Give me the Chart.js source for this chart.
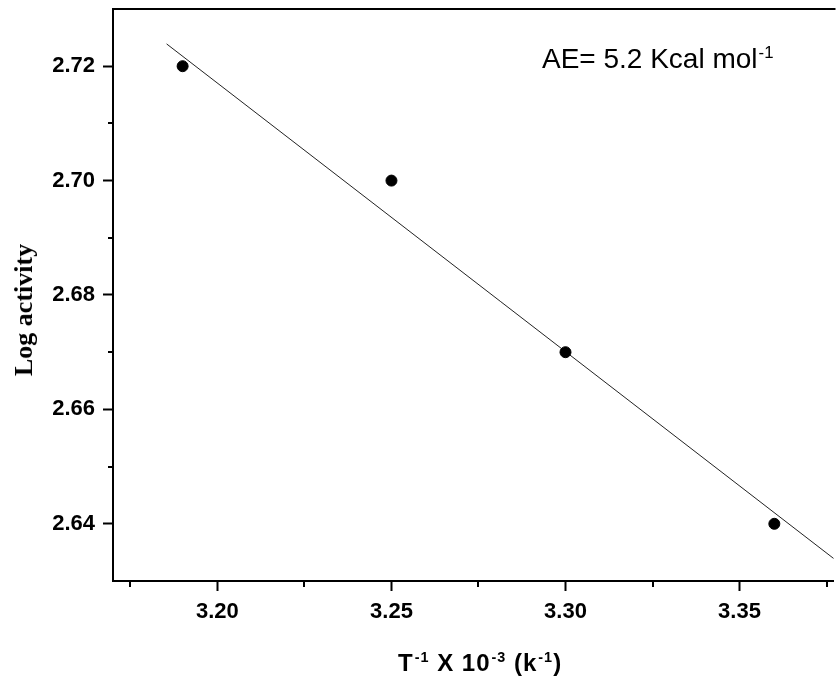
<!DOCTYPE html>
<html>
<head>
<meta charset="utf-8">
<script src="https://cdn.jsdelivr.net/npm/chart.js@4/dist/chart.umd.min.js"></script>
<style>
  html, body { margin: 0; padding: 0; background: #fff; overflow: hidden; }
  #wrap { position: relative; width: 840px; height: 681px; }
  canvas { position: absolute; left: 0; top: 0; }
  .lbl { position: absolute; white-space: nowrap; color: #000; line-height: 1; }
  .lbl sup { font-size: 0.6em; vertical-align: 0.6em; margin-left: 1px; }
  #xTitle { font: bold 24px "Liberation Sans", Arial, sans-serif; letter-spacing: 1px;
            left: 398px; top: 649px; }
  #yTitle { font: bold 26px "Liberation Serif", "Times New Roman", serif; left: 24px; top: 310px;
            transform: translate(-50%, -50%) rotate(-90deg); }
  #note { font: 28px "Liberation Sans", Arial, sans-serif; left: 542px; top: 43px; }
</style>
</head>
<body>
<div id="wrap">
  <canvas id="c" width="840" height="681"></canvas>
  <div class="lbl" id="xTitle">T<sup>-1</sup> X 10<sup>-3</sup> (k<sup>-1</sup>)</div>
  <div class="lbl" id="yTitle">Log activity</div>
  <div class="lbl" id="note">AE= 5.2 Kcal mol<sup>-1</sup></div>
</div>
<script>
  // measured points (1/T x 10^3 vs log activity)
  const invTemp = [3.19, 3.25, 3.30, 3.36];
  const logActivity = [2.72, 2.70, 2.67, 2.64];

  // fitted line at both ends
  const fitX = [3.1854, 3.385];
  const fitY = [2.7239, 2.6302];

  const xMajor = [3.20, 3.25, 3.30, 3.35];
  const xMinor = [3.175, 3.225, 3.275, 3.325, 3.375];
  const yMajor = [2.64, 2.66, 2.68, 2.70, 2.72];
  const yMinor = [2.65, 2.67, 2.69, 2.71];

  const tickFont = { family: '"Liberation Sans", Arial, sans-serif', size: 22, weight: 'bold' };

  // minor ticks + top frame line (Chart.js has no per-tick length)
  const frame = {
    id: 'frame',
    afterDraw(chart) {
      const { ctx, chartArea: a, scales } = chart;
      ctx.save();
      ctx.strokeStyle = '#000';
      ctx.lineWidth = 2;
      ctx.beginPath();
      ctx.moveTo(a.left - 1, a.top);
      ctx.lineTo(a.right + 2, a.top);
      xMinor.forEach(v => {
        const x = Math.round(scales.x.getPixelForValue(v));
        ctx.moveTo(x, a.bottom);
        ctx.lineTo(x, a.bottom + 6);
      });
      yMinor.forEach(v => {
        const y = Math.round(scales.y.getPixelForValue(v));
        ctx.moveTo(a.left, y);
        ctx.lineTo(a.left - 5, y);
      });
      ctx.stroke();
      ctx.restore();
    }
  };

  new Chart(document.getElementById('c'), {
    type: 'scatter',
    data: {
      datasets: [
        {
          data: invTemp.map((x, i) => ({ x, y: logActivity[i] })),
          backgroundColor: '#000', borderColor: '#000',
          pointRadius: 5.5, pointHoverRadius: 5.5
        },
        {
          type: 'line',
          data: fitX.map((x, i) => ({ x, y: fitY[i] })),
          borderColor: '#222', borderWidth: 1, pointRadius: 0, tension: 0, fill: false
        }
      ]
    },
    options: {
      responsive: false, animation: false,
      layout: { padding: { top: 9, right: 0, left: 0, bottom: 0 } },
      plugins: { legend: { display: false }, tooltip: { enabled: false } },
      scales: {
        x: {
          type: 'linear', min: 3.17, max: 3.377,
          afterBuildTicks: s => { s.ticks = xMajor.map(v => ({ value: v })); },
          afterFit: s => { s.height = 100; s.paddingLeft = 0; s.paddingRight = 0; },
          grid: { drawOnChartArea: false, drawTicks: true, tickLength: 10, tickWidth: 2, tickColor: '#000' },
          border: { display: true, width: 2, color: '#000' },
          ticks: { color: '#000', font: tickFont, padding: 8, maxRotation: 0,
                   callback: v => v.toFixed(2) }
        },
        y: {
          type: 'linear', min: 2.63, max: 2.73,
          afterBuildTicks: s => { s.ticks = yMajor.map(v => ({ value: v })); },
          afterFit: s => { s.width = 113; s.paddingTop = 0; s.paddingBottom = 0; },
          grid: { drawOnChartArea: false, drawTicks: true, tickLength: 10, tickWidth: 2, tickColor: '#000' },
          border: { display: true, width: 2, color: '#000' },
          ticks: { color: '#000', font: tickFont, padding: 8,
                   callback: v => v.toFixed(2) }
        }
      }
    },
    plugins: [frame]
  });
</script>
</body>
</html>
